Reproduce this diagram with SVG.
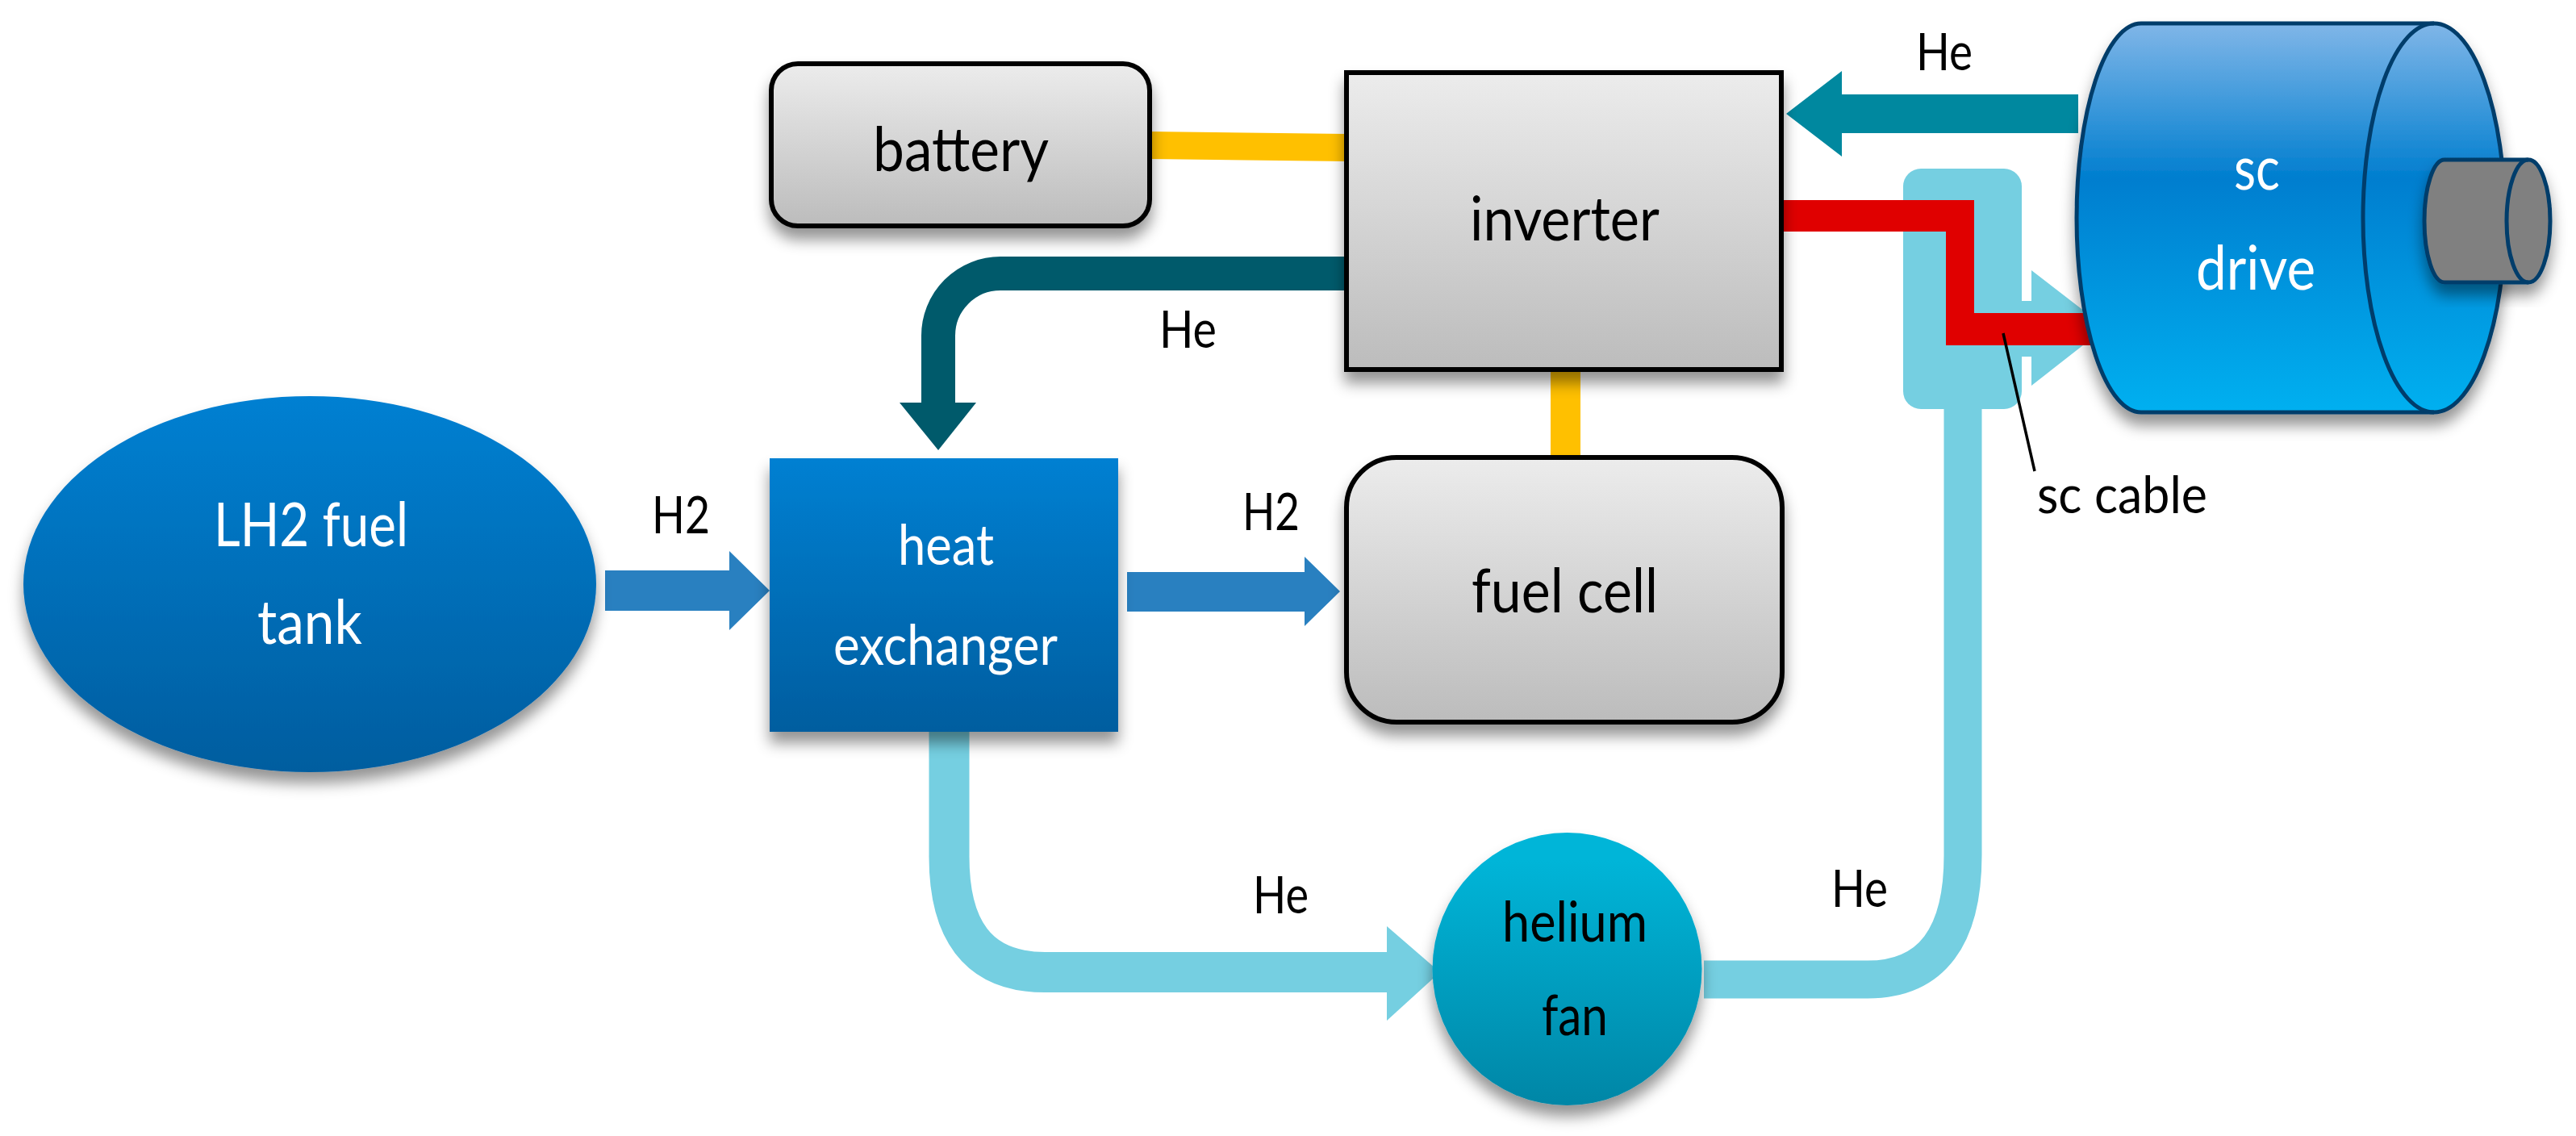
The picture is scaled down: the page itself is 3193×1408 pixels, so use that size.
<svg xmlns="http://www.w3.org/2000/svg" width="3193" height="1408" viewBox="0 0 3193 1408">
<style>
text{font-family:Lato,"Liberation Sans",sans-serif;fill:#000}
.l{font-size:64px}
.m{font-size:70px}
.n{font-size:76px}
.w{fill:#fff}
.box{stroke:#000;stroke-width:6}
.cyl{stroke:#003d6b;stroke-width:5}
.pipe{fill:none;stroke:#75cfe1}
</style>
<defs>
<linearGradient id="gGray" x1="0" y1="0" x2="0" y2="1"><stop offset="0" stop-color="#ececec"/><stop offset="1" stop-color="#bcbcbc"/></linearGradient>
<linearGradient id="gBlue" x1="0" y1="0" x2="0" y2="1"><stop offset="0" stop-color="#0180d2"/><stop offset="1" stop-color="#005d9f"/></linearGradient>
<linearGradient id="gFan" x1="0" y1="0" x2="0" y2="1"><stop offset="0.1" stop-color="#00b5d8"/><stop offset="1" stop-color="#0086a6"/></linearGradient>
<linearGradient id="gCyl" x1="0" y1="0" x2="0" y2="1"><stop offset="0" stop-color="#80b6e8"/><stop offset="0.4" stop-color="#007ecf"/><stop offset="1" stop-color="#00b0f0"/></linearGradient>
<filter id="sh" x="-15%" y="-15%" width="130%" height="135%"><feDropShadow dx="0" dy="14" stdDeviation="9" flood-color="#000" flood-opacity="0.42"/></filter>
</defs>
<g id="connectors">
<polygon fill="#ffc000" points="1425,163 1669,166 1669,200 1425,197"/>
<rect fill="#ffc000" x="1922" y="458" width="37" height="110"/>
<path fill="none" stroke="#005a6b" stroke-width="42" d="M1669,339 H1240 A77,77 0 0 0 1163,416 V505"/>
<polygon fill="#005a6b" points="1115,499 1210,499 1163,558"/>
<polygon fill="#2980c0" points="750,707 904,707 904,683 954,732 904,781 904,757 750,757"/>
<polygon fill="#2980c0" points="1397,709 1617,709 1617,690 1661,733 1617,776 1617,758 1397,758"/>
<path class="pipe" stroke-width="50" d="M1176.500,900 V1060 C1176,1150 1210,1205 1295,1205 H1722"/>
<polygon fill="#75cfe1" points="1719,1148 1785,1205 1719,1265"/>
<path class="pipe" stroke-width="47" d="M2112,1214 H2315 C2395,1214 2433,1160 2433,1060 V500"/>
<rect fill="#75cfe1" x="2359" y="209" width="147" height="298" rx="22"/>
<polygon fill="#75cfe1" points="2500,373 2518,373 2518,335 2610,406 2518,478 2518,442 2500,442"/>
<polygon fill="#00889f" points="2576,117 2283,117 2283,88 2214,141 2283,194 2283,165 2576,165"/>
<polygon fill="#e00000" points="2208,248 2447,248 2447,388 2592,388 2592,428 2412,428 2412,287 2208,287"/>
<line x1="2483" y1="413" x2="2522" y2="584" stroke="#000" stroke-width="3.500"/>
</g>
<g id="tank">
<ellipse cx="384" cy="724" rx="355" ry="233" fill="url(#gBlue)" filter="url(#sh)"/>
<text class="n w" x="265" y="677" textLength="241" lengthAdjust="spacingAndGlyphs">LH2 fuel</text>
<text class="n w" x="319" y="798" textLength="130" lengthAdjust="spacingAndGlyphs">tank</text>
</g>
<g id="heat-exchanger">
<rect x="954" y="568" width="432" height="339" fill="url(#gBlue)" filter="url(#sh)"/>
<text class="m w" x="1113" y="700" textLength="119" lengthAdjust="spacingAndGlyphs">heat</text>
<text class="m w" x="1033" y="824" textLength="278" lengthAdjust="spacingAndGlyphs">exchanger</text>
</g>
<g id="battery">
<rect class="box" x="956" y="79" width="469" height="201" rx="33" fill="url(#gGray)" filter="url(#sh)"/>
<text class="n" x="1082" y="212" textLength="218" lengthAdjust="spacingAndGlyphs">battery</text>
</g>
<g id="inverter">
<rect class="box" x="1669" y="90" width="539" height="368" fill="url(#gGray)" filter="url(#sh)"/>
<text class="n" x="1822" y="298" textLength="235" lengthAdjust="spacingAndGlyphs">inverter</text>
</g>
<g id="fuel-cell">
<rect class="box" x="1669" y="567" width="540" height="328" rx="62" fill="url(#gGray)" filter="url(#sh)"/>
<text class="n" x="1824" y="759" textLength="231" lengthAdjust="spacingAndGlyphs">fuel cell</text>
</g>
<g id="helium-fan">
<ellipse cx="1942.500" cy="1201" rx="167" ry="169" fill="url(#gFan)" filter="url(#sh)"/>
<text class="m" x="1862" y="1167" textLength="180" lengthAdjust="spacingAndGlyphs">helium</text>
<text class="m" x="1911" y="1283" textLength="82" lengthAdjust="spacingAndGlyphs">fan</text>
</g>
<g id="sc-drive">
<path class="cyl" fill="url(#gCyl)" filter="url(#sh)" d="M2654,29 H3017 A88,241 0 0 1 3017,511 H2654 A80,241 0 0 1 2654,29 Z"/>
<path class="cyl" fill="none" d="M3017,29 A88,241 0 0 0 3017,511"/>
<path class="cyl" fill="#808080" filter="url(#sh)" d="M3030,198 H3134 A27,76 0 0 1 3134,350 H3030 A25,76 0 0 1 3030,198 Z"/>
<path class="cyl" fill="none" d="M3134,198 A27,76 0 0 0 3134,350"/>
<text class="n w" x="2769" y="235" textLength="57" lengthAdjust="spacingAndGlyphs">sc</text>
<text class="n w" x="2722" y="359" textLength="148" lengthAdjust="spacingAndGlyphs">drive</text>
</g>
<g id="labels">
<text class="l" x="808" y="661" textLength="72" lengthAdjust="spacingAndGlyphs">H2</text>
<text class="l" x="1540" y="657" textLength="71" lengthAdjust="spacingAndGlyphs">H2</text>
<text class="l" x="1437" y="431" textLength="71" lengthAdjust="spacingAndGlyphs">He</text>
<text class="l" x="2375" y="87" textLength="70" lengthAdjust="spacingAndGlyphs">He</text>
<text class="l" x="1553" y="1132" textLength="69" lengthAdjust="spacingAndGlyphs">He</text>
<text class="l" x="2270" y="1124" textLength="70" lengthAdjust="spacingAndGlyphs">He</text>
<text class="l" x="2525" y="636" textLength="211" lengthAdjust="spacingAndGlyphs">sc cable</text>
</g>
</svg>
